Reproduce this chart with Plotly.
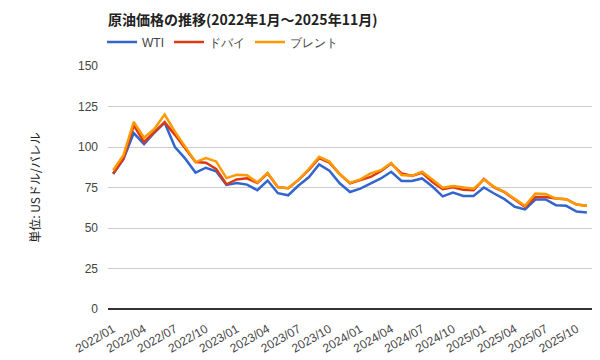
import plotly.graph_objects as go

months = [f"{y}/{m:02d}" for y in range(2022, 2026) for m in range(1, 13)][:47]

wti = [83.3, 92.5, 108.6, 101.8, 108.8, 115.0, 100.0, 92.8, 84.2, 87.2, 85.0, 76.6,
       77.8, 76.8, 73.3, 79.3, 71.5, 70.2, 76.2, 81.3, 89.2, 85.4, 77.6, 72.2,
       74.3, 77.6, 80.6, 84.7, 79.0, 79.0, 80.6, 75.6, 69.5, 71.8, 69.8, 69.8,
       75.0, 71.3, 67.8, 63.1, 61.5, 67.6, 67.6, 64.1, 63.7, 60.2, 59.6]
dubai = [83.6, 92.8, 113.3, 103.1, 109.2, 115.3, 107.5, 99.0, 90.7, 90.3, 86.5, 77.0,
         80.0, 80.7, 77.8, 83.7, 75.2, 74.6, 79.7, 85.9, 93.1, 90.4, 83.3, 77.5,
         79.5, 81.5, 85.1, 89.8, 83.7, 82.2, 84.1, 78.4, 73.9, 75.1, 73.6, 73.3,
         80.2, 75.0, 72.1, 67.4, 63.1, 69.2, 69.2, 68.2, 67.8, 64.5, 63.7]
brent = [85.6, 94.9, 115.5, 105.7, 111.2, 120.0, 109.5, 100.0, 90.7, 93.2, 91.1, 80.8,
         82.9, 82.5, 78.2, 84.0, 75.2, 74.6, 79.7, 86.4, 93.9, 91.0, 83.3, 77.9,
         80.0, 83.7, 85.7, 90.2, 82.7, 82.2, 84.7, 80.0, 74.9, 75.9, 74.9, 74.3,
         79.9, 75.4, 72.3, 67.8, 63.7, 71.3, 71.0, 68.2, 67.8, 64.5, 63.7]

series = [("WTI", wti, "#3366CC"), ("ドバイ", dubai, "#DC3912"), ("ブレント", brent, "#FF9900")]
tick_labels = months[::3]

FONT = "Noto Sans CJK JP"
LFONT = "Liberation Sans"

# page body has an 8px margin, so the figure is 592x352 and offsets are in figure px
W, H = 592, 352

fig = go.Figure()
for name, vals, color in series:
    fig.add_trace(go.Scatter(x=months, y=vals, mode="lines", name=name,
                             line=dict(color=color, width=2.5)))

fig.update_layout(
    width=W, height=H,
    margin=dict(l=100, r=8, t=58, b=51, autoexpand=False),
    paper_bgcolor="white", plot_bgcolor="white",
    font=dict(family=FONT, size=12, color="#444"),
    title=dict(text="<b>原油価格の推移(2022年1月～2025年11月)</b>",
               x=100/W, xanchor="left", xref="container",
               y=1-12/H, yanchor="middle", yref="container", pad=dict(l=0, r=0, t=0, b=0),
               font=dict(family=FONT, size=14, color="#222")),
    legend=dict(orientation="h", x=94/W, xanchor="left", xref="container",
                y=1-34/H, yanchor="middle", yref="container",
                font=dict(family=LFONT, size=12, color="#444"),
                itemwidth=30, bgcolor="rgba(0,0,0,0)"),
    showlegend=True,
)
fig.update_xaxes(type="category", range=[-0.5, 46.5], tickmode="array",
                 tickvals=tick_labels, ticktext=tick_labels, tickangle=-30,
                 showgrid=False, showline=False, ticks="", automargin=False,
                 ticklabelstandoff=10,
                 tickfont=dict(family=LFONT, size=12, color="#444"))
fig.update_yaxes(range=[0, 150], tickvals=[0, 25, 50, 75, 100, 125, 150],
                 showgrid=True, gridcolor="#cccccc", gridwidth=1,
                 zeroline=True, zerolinecolor="#333333", zerolinewidth=1.5,
                 showline=False, ticks="", ticklen=0, automargin=False,
                 ticklabelstandoff=9,
                 tickfont=dict(family=LFONT, size=12, color="#444"),
                 title=dict(text="単位: USドル/バレル", standoff=34,
                            font=dict(family=FONT, size=12, color="#222")))

fig.write_html("out.html")
